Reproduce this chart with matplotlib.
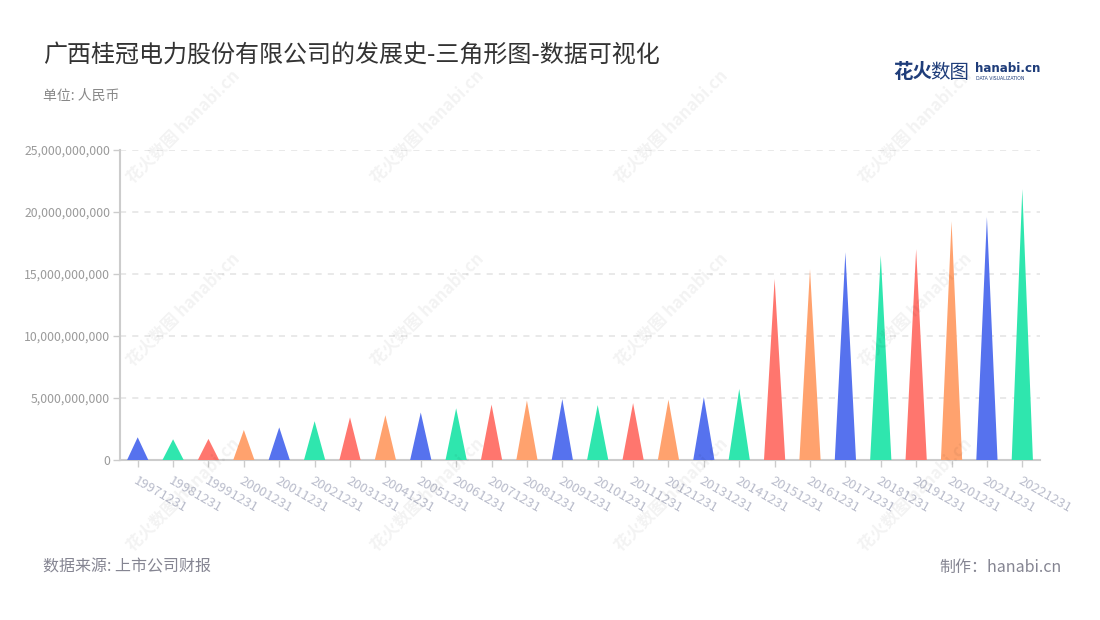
import matplotlib
matplotlib.use("Agg")
import matplotlib.pyplot as plt
import numpy as np
from matplotlib.ticker import FuncFormatter, FixedLocator

plt.rcParams['font.family'] = ['Noto Sans CJK SC', 'DejaVu Sans']

# ---- data ----
categories = ["19971231", "19981231", "19991231", "20001231", "20011231", "20021231",
              "20031231", "20041231", "20051231", "20061231", "20071231", "20081231",
              "20091231", "20101231", "20111231", "20121231", "20131231", "20141231",
              "20151231", "20161231", "20171231", "20181231", "20191231", "20201231",
              "20211231", "20221231"]
values_bn = [1.83, 1.67, 1.70, 2.42, 2.63, 3.13, 3.44, 3.61, 3.83, 4.17, 4.47, 4.80,
             4.91, 4.43, 4.59, 4.86, 5.07, 5.73, 14.6, 15.4, 16.75, 16.5, 17.0, 19.25,
             19.6, 21.85]
values = [v * 1e9 for v in values_bn]
y_ticks = [0, 5e9, 10e9, 15e9, 20e9, 25e9]

title = "广西桂冠电力股份有限公司的发展史-三角形图-数据可视化"
subtitle = "单位: 人民币"
source = "数据来源: 上市公司财报"
maker = "制作：hanabi.cn"

palette = ['#5672EE', '#2FE6AE', '#FF766E', '#FFA26E']

# ---- figure ----
fig = plt.figure(figsize=(11, 6.2), dpi=100)
ax = fig.add_axes([120/1100, 1-460/620, (1040-120)/1100, 310/620])

half = 0.3
for i, v in enumerate(values):
    ax.fill([i - half, i, i + half], [0, v, 0], color=palette[i % 4], lw=0, zorder=3)

ax.set_xlim(-0.5, len(categories) - 0.5)
ax.set_ylim(0, 25e9)
ax.yaxis.set_major_locator(FixedLocator(y_ticks))
ax.yaxis.set_major_formatter(FuncFormatter(lambda v, p: f"{int(round(v)):,}"))
ax.set_xticks(range(len(categories)))
ax.set_xticklabels(categories, rotation=-30, ha='left', va='top',
                   rotation_mode='anchor', color='#b9bccb', fontsize=9.5)

for s in ['top', 'right']:
    ax.spines[s].set_visible(False)
for s in ['left', 'bottom']:
    ax.spines[s].set_color('#cccccc')
    ax.spines[s].set_linewidth(1.5)

ax.tick_params(axis='x', length=5, width=1, color='#cccccc', pad=5)
ax.tick_params(axis='y', length=5, width=1, color='#cccccc', labelcolor='#9a9a9a',
               labelsize=8.8, pad=2)
for lab in ax.get_xticklabels():
    lab.set_x(lab.get_position()[0])

for t in y_ticks[1:]:
    ax.axhline(t, color='#e3e3e3', lw=1.1, ls=(0, (4, 4)), zorder=1)

# ---- texts ----
fig.text(43/1100, 1-55/620, title, fontsize=17.3, color='#333333', va='center', ha='left')
fig.text(43/1100, 1-96/620, subtitle, fontsize=10, color='#888888', va='center', ha='left')
fig.text(43/1100, 1-567/620, source, fontsize=11.5, color='#858592', va='center', ha='left')
fig.text(1062/1100, 1-567/620, maker, fontsize=11.5, color='#858592', va='center', ha='right')

# logo
fig.text(893/1100, 1-72/620, "花火", fontsize=14, color='#1f3d7a', fontweight='bold',
         va='center', ha='left')
fig.text(930/1100, 1-72/620, "数图", fontsize=14, color='#1f3d7a', va='center', ha='left')
fig.text(975/1100, 1-68/620, "hanabi.cn", fontsize=8.6, color='#1f3d7a', fontweight='bold',
         va='center', ha='left', family=['DejaVu Sans'])
fig.text(976/1100, 1-78.5/620, "DATA VISUALIZATION", fontsize=3.3, color='#1f3d7a',
         va='center', ha='left', family=['DejaVu Sans'])

# watermarks
for cx in [183, 427, 671, 915]:
    for cy in [127, 310, 495]:
        fig.text(cx/1100, 1-cy/620, "花火数图 hanabi.cn", fontsize=12, rotation=45,
                 color='#000000', alpha=0.05, fontweight='bold',
                 ha='center', va='center', zorder=10)

fig.savefig("out.png", dpi=100, facecolor='white')
